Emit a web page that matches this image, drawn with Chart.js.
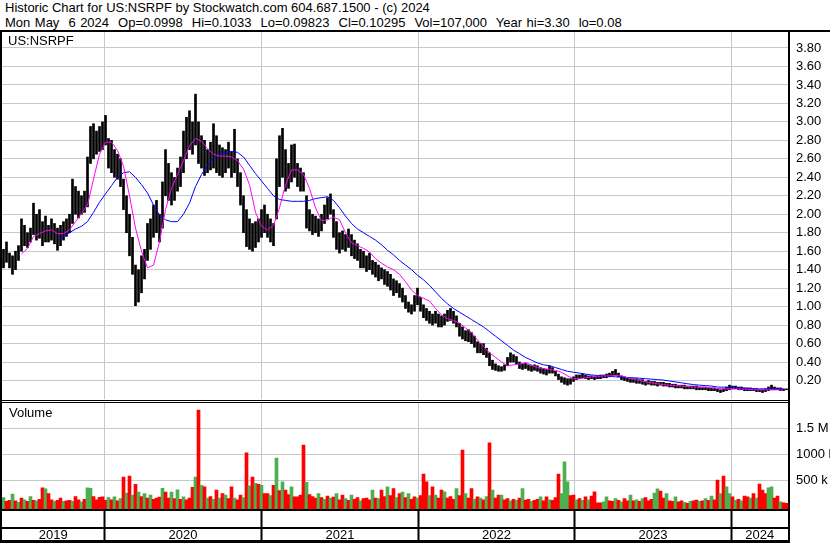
<!DOCTYPE html>
<html>
<head>
<meta charset="utf-8">
<script src="https://cdn.jsdelivr.net/npm/chart.js@4.4.1/dist/chart.umd.min.js"></script>
<style>
  body { margin:0; background:#fff; font-family:"Liberation Sans", Arial, sans-serif; }
  #wrap { position:relative; width:830px; height:543px; overflow:hidden; background:#fff; }
  .hdr { position:absolute; left:5px; font-size:13px; line-height:15px; color:#000; white-space:pre; }
  .ln { position:absolute; background:#000; }
  .lbl { position:absolute; font-size:13px; line-height:15px; color:#000; }
  canvas { position:absolute; }
</style>
</head>
<body>
<div id="wrap">
  <div class="hdr" style="top:0px">Historic Chart for US:NSRPF by Stockwatch.com 604.687.1500 - (c) 2024</div>
  <div class="hdr" style="top:14.7px;word-spacing:0.9px">Mon May  6 2024  Op=0.0998  Hi=0.1033  Lo=0.09823  Cl=0.10295  Vol=107,000  Year hi=3.30  lo=0.08</div>
  <canvas id="price" width="828" height="368" style="left:2px;top:32px"></canvas>
  <canvas id="vol" width="828" height="140" style="left:2px;top:403px"></canvas>
  <div class="ln" style="left:0;top:30px;width:830px;height:2px"></div>
  <div class="ln" style="left:0;top:30px;width:2px;height:513px"></div>
  <div class="ln" style="left:788px;top:30px;width:2px;height:513px"></div>
  <div class="ln" style="left:0;top:400px;width:790px;height:1px"></div>
  <div class="ln" style="left:0;top:402px;width:790px;height:1px"></div>
  <div class="ln" style="left:0;top:509px;width:790px;height:2px"></div>
  <div class="ln" style="left:0;top:527px;width:790px;height:2px"></div>
  <div class="ln" style="left:0;top:540px;width:790px;height:3px"></div>
  <div class="lbl" style="left:8px;top:33px">US:NSRPF</div>
  <div class="lbl" style="left:9px;top:405px">Volume</div>
</div>
<script>
// weekly bars, May 2019 - May 2024 (week 0 = first week on the chart)
const priceHigh = [
  1.62,1.70,1.58,1.55,1.60,1.66,1.95,1.88,1.80,1.85,
  2.12,2.00,2.05,1.92,1.98,1.88,1.95,1.90,1.85,1.88,
  1.92,1.95,2.00,2.38,2.30,2.25,2.20,2.25,2.62,2.95,
  2.98,2.90,2.95,3.00,3.07,2.82,2.80,2.70,2.65,2.60,
  2.38,2.20,2.00,1.75,1.45,1.40,1.55,1.62,1.90,1.95,
  2.10,2.15,2.00,2.35,2.70,2.55,2.45,2.40,2.50,2.62,
  2.90,3.05,3.12,3.00,3.30,3.00,2.85,2.80,2.70,2.78,
  2.98,2.85,2.75,2.72,2.70,2.78,2.68,2.92,2.60,2.45,
  2.20,2.05,1.95,1.90,1.92,1.95,2.05,2.10,2.00,1.95,
  1.90,2.60,2.85,2.93,2.70,2.55,2.75,2.76,2.55,2.50,
  2.45,2.20,2.05,2.00,1.98,1.95,2.00,2.10,2.18,2.22,
  2.05,1.92,1.80,1.82,1.78,1.84,1.78,1.72,1.68,1.62,
  1.60,1.55,1.58,1.50,1.48,1.45,1.42,1.40,1.38,1.35,
  1.30,1.28,1.25,1.20,1.12,1.05,1.02,1.12,1.20,1.10,
  1.02,0.98,0.95,0.92,0.95,0.92,0.90,0.92,0.96,0.98,
  0.95,0.90,0.82,0.78,0.74,0.75,0.72,0.68,0.62,0.60,
  0.60,0.55,0.50,0.42,0.38,0.36,0.35,0.37,0.45,0.50,
  0.48,0.46,0.40,0.38,0.39,0.37,0.36,0.37,0.36,0.34,
  0.33,0.32,0.36,0.34,0.30,0.27,0.24,0.23,0.22,0.22,
  0.24,0.26,0.26,0.27,0.26,0.25,0.25,0.24,0.25,0.26,
  0.26,0.27,0.28,0.30,0.32,0.28,0.25,0.24,0.23,0.22,
  0.22,0.22,0.21,0.21,0.19,0.20,0.19,0.19,0.18,0.18,
  0.18,0.17,0.17,0.16,0.16,0.15,0.15,0.15,0.14,0.14,
  0.14,0.14,0.13,0.13,0.13,0.12,0.12,0.12,0.11,0.10,
  0.11,0.13,0.15,0.14,0.14,0.13,0.13,0.12,0.12,0.12,
  0.11,0.11,0.10,0.10,0.11,0.13,0.15,0.13,0.12,0.12,
  0.11,0.11
];
const priceLow = [
  1.42,1.48,1.42,1.35,1.40,1.50,1.60,1.66,1.64,1.70,
  1.78,1.72,1.74,1.66,1.70,1.70,1.72,1.68,1.61,1.66,
  1.72,1.76,1.80,1.90,2.00,1.96,2.00,2.02,2.08,2.55,
  2.60,2.65,2.68,2.70,2.75,2.50,2.45,2.40,2.38,2.30,
  2.05,1.80,1.55,1.35,1.01,1.05,1.15,1.30,1.50,1.62,
  1.75,1.80,1.70,1.85,2.20,2.15,2.10,2.15,2.25,2.30,
  2.45,2.60,2.70,2.65,2.75,2.55,2.50,2.42,2.45,2.48,
  2.50,2.45,2.42,2.40,2.45,2.50,2.40,2.45,2.30,2.10,
  1.80,1.65,1.62,1.60,1.64,1.70,1.75,1.80,1.75,1.70,
  1.66,1.95,2.30,2.40,2.25,2.28,2.35,2.40,2.30,2.25,
  2.25,1.85,1.82,1.78,1.80,1.76,1.82,1.90,1.95,2.00,
  1.75,1.62,1.58,1.62,1.60,1.64,1.55,1.52,1.50,1.42,
  1.42,1.38,1.40,1.35,1.32,1.28,1.30,1.24,1.22,1.18,
  1.12,1.15,1.10,1.05,0.98,0.94,0.92,0.95,1.02,0.95,
  0.88,0.85,0.82,0.80,0.82,0.78,0.78,0.80,0.84,0.85,
  0.82,0.78,0.68,0.65,0.63,0.62,0.60,0.56,0.50,0.50,
  0.48,0.45,0.36,0.32,0.31,0.30,0.30,0.31,0.36,0.40,
  0.40,0.38,0.33,0.32,0.33,0.31,0.30,0.31,0.30,0.28,
  0.27,0.26,0.28,0.28,0.25,0.21,0.18,0.16,0.15,0.16,
  0.19,0.21,0.22,0.23,0.22,0.21,0.22,0.21,0.22,0.22,
  0.23,0.23,0.24,0.25,0.26,0.24,0.21,0.20,0.19,0.18,
  0.18,0.17,0.17,0.16,0.15,0.16,0.15,0.15,0.14,0.15,
  0.14,0.14,0.13,0.13,0.12,0.12,0.12,0.11,0.11,0.11,
  0.11,0.10,0.10,0.10,0.10,0.09,0.09,0.09,0.08,0.07,
  0.08,0.09,0.10,0.11,0.11,0.10,0.10,0.09,0.09,0.09,
  0.09,0.08,0.08,0.07,0.08,0.09,0.10,0.10,0.10,0.09,
  0.09,0.10
];
// moving averages, one reading every second week
const maShort = [
  null,null,null,1.57,1.63,1.76,1.79,1.82,1.83,1.79,
  1.79,1.83,1.92,2.01,2.10,2.38,2.65,2.78,2.78,2.69,
  2.52,2.20,1.85,1.60,1.42,1.45,1.70,2.05,2.28,2.43,
  2.58,2.74,2.82,2.79,2.71,2.65,2.63,2.63,2.62,2.58,
  2.49,2.32,2.02,1.87,1.83,1.88,2.07,2.32,2.48,2.48,
  2.43,2.28,2.07,1.93,1.94,1.97,1.94,1.80,1.69,1.66,
  1.63,1.59,1.52,1.47,1.43,1.40,1.35,1.27,1.18,1.12,
  1.09,1.06,0.98,0.91,0.87,0.85,0.82,0.77,0.72,0.64,
  0.57,0.50,0.45,0.40,0.36,0.37,0.38,0.39,0.37,0.34,
  0.33,0.32,0.31,0.29,0.25,0.22,0.22,0.23,0.24,0.245,
  0.25,0.25,0.255,0.25,0.23,0.215,0.20,0.185,0.175,0.165,
  0.155,0.15,0.145,0.14,0.135,0.13,0.127,0.125,0.12,0.115,
  0.11,0.11,0.11,0.107,0.105,0.10,0.10,0.10,0.10,0.10,0.095
];
const maLong = [
  null,null,null,null,null,null,null,null,null,1.71,
  1.76,1.80,1.84,1.87,1.92,2.02,2.13,2.22,2.31,2.40,
  2.45,2.46,2.40,2.32,2.23,2.10,1.99,1.94,1.92,1.92,
  2.00,2.12,2.30,2.43,2.53,2.61,2.65,2.67,2.68,2.67,
  2.62,2.53,2.44,2.36,2.28,2.20,2.16,2.15,2.14,2.14,
  2.14,2.15,2.17,2.18,2.19,2.15,2.07,1.98,1.90,1.84,
  1.80,1.76,1.72,1.67,1.61,1.56,1.50,1.45,1.40,1.34,
  1.29,1.23,1.16,1.09,1.03,0.98,0.94,0.90,0.86,0.82,
  0.78,0.73,0.68,0.63,0.58,0.53,0.49,0.45,0.42,0.39,
  0.37,0.36,0.34,0.32,0.30,0.29,0.28,0.27,0.26,0.255,
  0.25,0.245,0.24,0.237,0.233,0.23,0.225,0.22,0.215,0.21,
  0.205,0.195,0.185,0.175,0.165,0.156,0.15,0.145,0.14,0.13,
  0.128,0.125,0.122,0.12,0.115,0.112,0.11,0.11,0.108,0.108,0.107
];
// volume in thousands, one bar per week; r = down, g = up
const volumeK = [
  160,90,110,230,100,70,150,120,90,180,110,
  100,130,350,330,240,120,90,110,150,90,100,
  110,90,180,120,80,130,350,340,180,120,165,
  175,110,160,120,175,100,140,560,250,580,210,
  420,270,180,240,150,210,130,150,170,340,270,
  150,270,140,310,130,175,120,150,360,560,1860,
  400,370,150,180,130,306,150,240,210,140,370,
  150,120,210,160,1030,390,560,440,420,400,240,
  240,200,400,930,300,470,306,220,370,176,176,
  209,1180,460,220,180,150,240,160,130,190,150,
  170,240,120,210,140,110,210,130,160,100,140,
  150,120,306,150,140,306,180,370,200,338,160,
  240,270,160,240,130,176,150,200,617,467,200,
  371,209,150,306,273,150,180,130,338,200,1084,
  241,150,338,130,176,150,120,180,1226,306,150,
  209,209,120,144,100,130,110,150,338,111,130,
  90,110,130,176,100,176,120,110,160,617,241,
  857,467,200,209,120,144,110,176,120,190,273,
  60,60,80,176,100,90,144,110,80,144,100,
  209,100,120,90,144,160,100,130,250,330,290,
  150,241,100,90,176,80,100,70,50,90,100,
  111,90,100,144,110,190,120,500,241,578,371,
  241,176,110,130,100,190,176,150,241,150,422,
  306,241,350,371,150,190,79,60,50
];
const volumeDir =
  "grrgrgrgrgr" + "grrgrrgrrgr" + "rgrrgrggrrr" + "rrgrgrgrgrg" +
  "rgrgrgrrrgr" + "rgrgrgrrrgr" + "grgrgrgrgrr" + "grrgrgrgrgr" +
  "rgrgrgrrgrr" + "rrgrrrgrgrg" + "rgrrgrgrrgr" + "rrgrgrrgrrg" +
  "rgrgrrgrrrg" + "rgrrgrrrgrr" + "grrgrgrgrgr" + "rgrrgrgrgrr" +
  "grrgrrgrrrg" + "ggrrgrgrgrr" + "rrggrrgrgrr" + "grgrgrrrggr" +
  "rgrrgrrgrgr" + "rgrgrgrrgrg" + "grgrgrrgrgr" + "rrggrrgrr";

// axis ticks and year bands (year starts in week units)
const priceTicks = [0.2,0.4,0.6,0.8,1.0,1.2,1.4,1.6,1.8,2.0,2.2,2.4,2.6,2.8,3.0,3.2,3.4,3.6,3.8];
const volTicks = [500, 1000, 1500];
const volTickLabels = ["500 k", "1000 k", "1.5 M"];
const yearStarts = [33.7, 86.0, 138.3, 190.3, 242.7];
const yearLabels = ["2019", "2020", "2021", "2022", "2023", "2024"];

const FONT = { family: '"Liberation Sans", Arial, sans-serif', size: 13 };
const GRID = '#c8c8c8';

function noPad(s) {
  s.paddingTop = 0; s.paddingBottom = 0; s.paddingLeft = 0; s.paddingRight = 0;
}

function xAxis(bandTicks) {
  return {
    type: 'linear', min: -0.5, max: 261.5, offset: false,
    afterBuildTicks: s => { s.ticks = yearStarts.map(v => ({ value: v })); },
    afterFit: s => { s.height = bandTicks ? 33.5 : 1; noPad(s); },
    ticks: { display: false },
    border: { display: false },
    grid: bandTicks
      ? { offset: false, color: GRID, drawTicks: true, tickLength: 32, tickColor: '#000', tickWidth: 2 }
      : { offset: false, color: GRID, drawTicks: false }
  };
}

function yAxis(min, max, ticks, fmt) {
  return {
    position: 'right', min: min, max: max,
    afterBuildTicks: s => { s.ticks = ticks.map(v => ({ value: v })); },
    afterFit: s => { s.width = 42; noPad(s); },
    border: { display: false },
    grid: { color: GRID, drawTicks: false },
    ticks: { padding: 8, color: '#000', font: FONT, callback: fmt }
  };
}

const yearLabelPlugin = {
  id: 'yearLabels',
  afterDraw(chart) {
    const x = chart.scales.x, ctx = chart.ctx;
    const edges = [x.min].concat(yearStarts, [x.max]);
    ctx.save();
    ctx.font = '13px "Liberation Sans", Arial, sans-serif';
    ctx.fillStyle = '#000';
    ctx.textAlign = 'center';
    ctx.textBaseline = 'middle';
    yearLabels.forEach((t, i) => {
      const px = (x.getPixelForValue(edges[i]) + x.getPixelForValue(edges[i + 1])) / 2;
      ctx.fillText(t, px, 132);
    });
    ctx.restore();
  }
};

new Chart(document.getElementById('price'), {
  type: 'bar',
  data: {
    datasets: [
      { type: 'line', data: maShort.map((v, j) => ({ x: j * 2, y: v })), borderColor: '#ff00ff',
        borderWidth: 1, pointRadius: 0, tension: 0 },
      { type: 'line', data: maLong.map((v, j) => ({ x: j * 2, y: v })), borderColor: '#0000ff',
        borderWidth: 1, pointRadius: 0, tension: 0 },
      { type: 'bar', data: priceHigh.map((h, i) => ({ x: i, y: [priceLow[i], h] })),
        backgroundColor: '#000', barThickness: 2 }
    ]
  },
  options: {
    responsive: false, animation: false, devicePixelRatio: 1,
    layout: { padding: 0 },
    plugins: { legend: { display: false }, tooltip: { enabled: false } },
    scales: {
      x: xAxis(false),
      y: yAxis(0, 3.973, priceTicks, v => v.toFixed(2))
    }
  }
});

new Chart(document.getElementById('vol'), {
  type: 'bar',
  data: {
    datasets: [{
      data: volumeK.map((v, i) => ({ x: i, y: v })),
      backgroundColor: volumeK.map((v, i) => volumeDir[i] === 'g' ? '#4caf50' : '#ff0000'),
      base: -70, barPercentage: 1, categoryPercentage: 1
    }]
  },
  options: {
    responsive: false, animation: false, devicePixelRatio: 1,
    layout: { padding: 0 },
    plugins: { legend: { display: false }, tooltip: { enabled: false } },
    scales: {
      x: xAxis(true),
      y: yAxis(-70, 2000, volTicks, v => volTickLabels[volTicks.indexOf(v)])
    }
  },
  plugins: [yearLabelPlugin]
});
</script>
</body>
</html>
